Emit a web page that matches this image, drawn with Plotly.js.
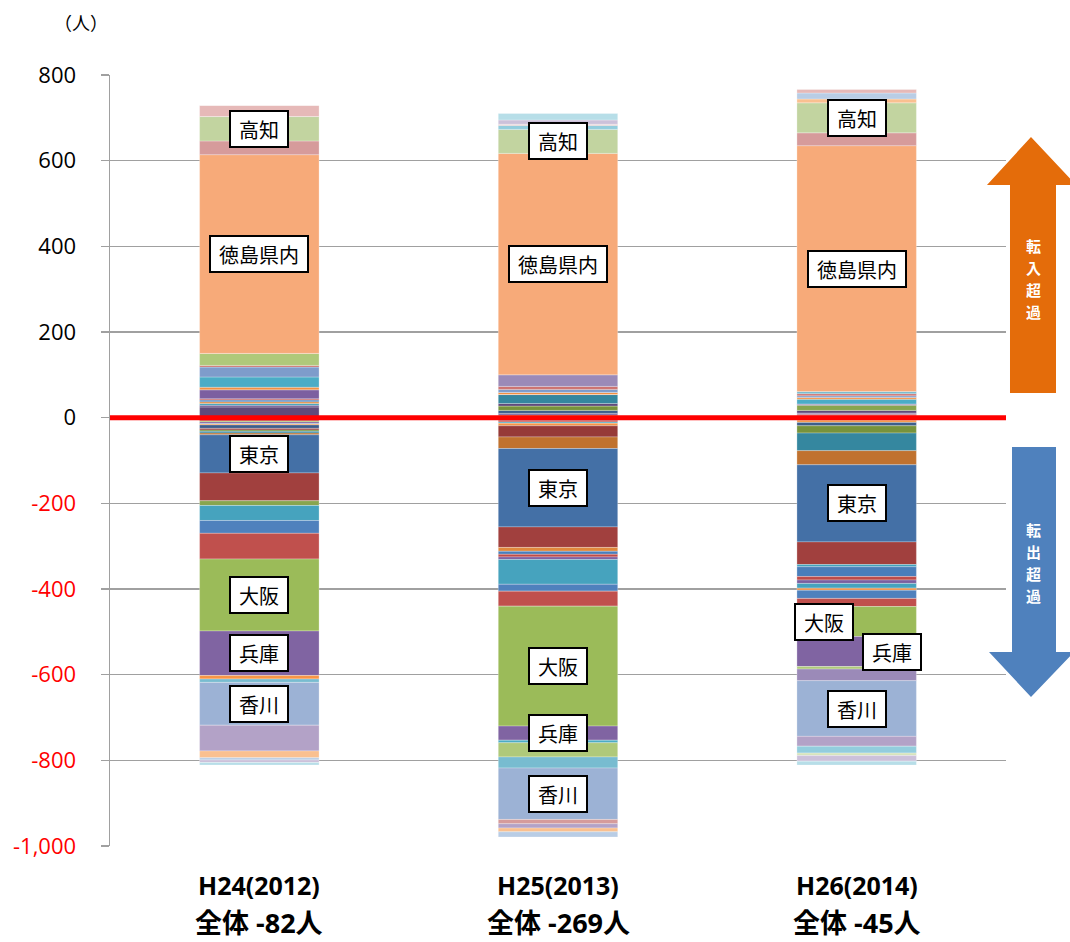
<!DOCTYPE html>
<html><head><meta charset="utf-8">
<script src="https://cdn.plot.ly/plotly-3.0.1.min.js"></script>
<style>html,body{margin:0;padding:0;background:#fff;} #chart{width:1070px;height:942px;}</style>
</head><body><div id="chart"></div>
<script>
// ---- data ----
const categories = ['H24(2012)', 'H25(2013)', 'H26(2014)'];
const prefs = ['北海道','青森','岩手','宮城','秋田','山形','福島','茨城','栃木','群馬','埼玉','千葉','東京','神奈川','新潟','富山','石川','福井','山梨','長野','岐阜','静岡','愛知','三重','滋賀','京都','大阪','兵庫','奈良','和歌山','鳥取','島根','岡山','広島','山口','徳島県内','香川','愛媛','高知','福岡','佐賀','長崎','熊本','大分','宮崎','鹿児島','沖縄'];
const v2012 = [-5,-3,-2,-4,-1,-2,-8,-4,-3,25,-4,-4,-89,-65,-11,4,4,4,4,3,0,21,-35,6,-30,-60,-168,-104,24,-8,23,4,28,0,-8,464,-100,32,57,-60,0,-16,-5,26,0,-6,-6];
const v2013 = [-6,-4,6,4,-3,-6,7,-26,10,6,21,-27,-183,-48,0,0,0,-9,-7,-6,0,-6,-58,5,-16,-35,-280,-33,-6,0,7,7,-33,27,-26,517,-120,-10,56,-10,9,-9,-12,3,0,10,15];
const v2014 = [5,3,-3,3,-3,-5,-8,0,-17,6,-41,-33,-180,-53,12,3,-5,0,-23,-8,0,-8,-11,-5,-19,-19,-70,-70,11,4,4,5,-6,-27,5,574,-130,30,70,-23,-16,9,14,8,-6,-13,-9];
const labeled = ['高知','徳島県内','東京','大阪','兵庫','香川'];
const yTicks = [-1000,-800,-600,-400,-200,0,200,400,600,800];
const unitLabel = '（人）';
const totalPrefix = '全体 ';
const totalSuffix = '人';
const inLabel = '転入超過';
const outLabel = '転出超過';

// ---- styles ----
const colors = [
 '#4F81BD','#C0504D','#9BBB59','#8064A2','#4BACC6','#F79646',
 '#3D5E8C','#963A38','#77933C','#604A7B','#35879F','#C0722F',
 '#4470A6','#A1403E','#88A54E','#6E5590','#3FA1BB','#E0883C',
 '#4A7EBA','#BE4B48','#94B655','#7C5FA0','#46A3BE','#F39043',
 '#4F81BD','#C0504D','#9BBB59','#8064A2','#4BACC6','#F79646',
 '#7E9CCB','#CD7371','#AFC97A','#9B8AB8','#78BCD0','#F7AA79',
 '#9CB2D5','#D69B9B','#C2D4A0','#B3A2C7','#93CDDD','#FAC090',
 '#B9CDE5','#E6B9B8','#D7E4BD','#CCC1DA','#B7DEE8'];

const years = [v2012, v2013, v2014];
const traces = prefs.map((p, i) => ({
  type: 'bar', x: categories, y: years.map(a => a[i]), name: p,
  marker: {color: colors[i], line: {width: 0.6, color: 'rgba(255,255,255,0.45)'}},
  hoverinfo: 'name+y'
}));

// helpers for pixel->paper on decorations
const L = 110, R = 1006, T = 75, B = 846;
const px = x => (x - L) / (R - L);
const py = y => (B - y) / (B - T);
const pathOf = pts => 'M ' + pts.map(p => px(p[0]).toFixed(5) + ' ' + py(p[1]).toFixed(5)).join(' L ') + ' Z';

const annotations = [];
const shiftMap = {'2-大阪': -33, '2-兵庫': 35};
years.forEach((arr, j) => {
  labeled.forEach(name => {
    const k = prefs.indexOf(name);
    const v = arr[k];
    let base = 0;
    for (let m = 0; m < k; m++) if ((arr[m] >= 0) === (v >= 0) && arr[m] !== 0) base += arr[m];
    annotations.push({
      x: categories[j], y: base + v / 2, xref: 'x', yref: 'y', text: name, showarrow: false,
      xanchor: 'center', yanchor: 'middle',
      xshift: shiftMap[j + '-' + name] || 0,
      font: {family: 'Noto Sans CJK JP', size: 20, color: '#000'},
      bgcolor: '#fff', bordercolor: '#000', borderwidth: 2, borderpad: 5,
      width: name.length * 20 + 6, height: 24
    });
  });
  const total = arr.reduce((s, v) => s + v, 0);
  annotations.push({x: categories[j], xref: 'x', yref: 'paper', y: py(885), xanchor: 'center', yanchor: 'middle',
    text: '<b>' + categories[j] + '</b>',
    showarrow: false, font: {family: 'Open Sans, Noto Sans CJK JP', size: 25, color: '#000'}});
  annotations.push({x: categories[j], xref: 'x', yref: 'paper', y: py(922), xanchor: 'center', yanchor: 'middle',
    text: '<b>' + totalPrefix + total + totalSuffix + '</b>',
    showarrow: false, font: {family: 'Open Sans, Noto Sans CJK JP', size: 27, color: '#000'}});
});
annotations.push({xref: 'paper', yref: 'paper', x: px(81), y: py(22), xanchor: 'center', yanchor: 'middle',
  text: unitLabel, showarrow: false, font: {family: 'Noto Sans CJK JP', size: 18, color: '#000'}});
// vertical arrow captions, one character per position
const charStep = 22;
const addVertical = (label, yTop) => label.split('').forEach((c, i) => annotations.push({
  xref: 'paper', yref: 'paper', x: px(1033), y: py(yTop + i * charStep), xanchor: 'center', yanchor: 'middle',
  text: '<b>' + c + '</b>', showarrow: false, font: {family: 'Noto Sans CJK JP', size: 15, color: '#fff'}}));
addVertical(inLabel, 245);
addVertical(outLabel, 529);

const fmt = v => {
  const s = Math.abs(v).toLocaleString('en-US');
  return v < 0 ? '<span style="color:#FF0000">-' + s + '</span>' : s;
};

const shapes = [
  {type: 'path', xref: 'paper', yref: 'paper', path: pathOf([[1031,137],[1076,185],[1056,185],[1056,393],[1010,393],[1010,185],[987,185]]),
   fillcolor: '#E46C0A', line: {width: 0}, layer: 'above'},
  {type: 'path', xref: 'paper', yref: 'paper', path: pathOf([[1012,447],[1056,447],[1056,652],[1074,652],[1031,697],[989,652],[1012,652]]),
   fillcolor: '#4F81BD', line: {width: 0}, layer: 'above'},
  {type: 'line', xref: 'paper', yref: 'y', x0: 0, x1: 1, y0: 0, y1: 0, line: {color: '#FF0000', width: 5}, layer: 'above'}
];

const layout = {
  width: 1070, height: 942,
  margin: {l: L, r: 1070 - R, t: T, b: 942 - B, pad: 0},
  paper_bgcolor: '#fff', plot_bgcolor: '#fff',
  barmode: 'relative', bargap: 0.6, showlegend: false,
  font: {family: 'Noto Sans CJK JP', color: '#000'},
  xaxis: {type: 'category', range: [-0.5, 2.5], showticklabels: false, showgrid: false, zeroline: false, showline: false, fixedrange: true},
  yaxis: {range: [-1000, 800], tickvals: yTicks, ticktext: yTicks.map(fmt),
    showgrid: true, gridcolor: '#A0A0A0', gridwidth: 1.4, zeroline: false,
    showline: true, linecolor: '#A0A0A0', linewidth: 1.5,
    ticks: 'outside', ticklen: 8, tickcolor: '#A0A0A0', tickwidth: 1.5, ticklabelstandoff: 20,
    tickfont: {family: 'Open Sans', size: 22, color: '#000'}, fixedrange: true},
  annotations: annotations,
  shapes: shapes
};

Plotly.newPlot('chart', traces, layout, {displayModeBar: false, staticPlot: true});
</script>
</body></html>
